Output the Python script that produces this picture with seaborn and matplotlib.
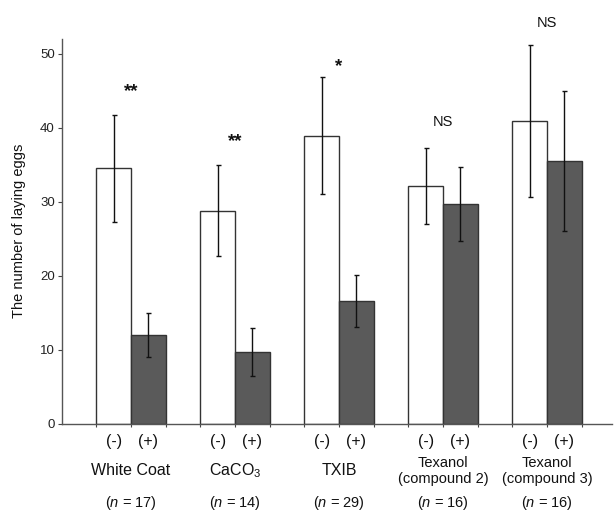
import pandas as pd
import matplotlib
matplotlib.use("Agg")
import matplotlib.pyplot as plt
import seaborn as sns

# values
groups = ['White Coat', 'CaCO$_3$', 'TXIB', 'Texanol\n(compound 2)', 'Texanol\n(compound 3)']
n_values = [17, 14, 29, 16, 16]
treatments = ['(-)', '(+)']
mean_minus = [34.5, 28.8, 38.9, 32.1, 40.9]
err_minus = [7.2, 6.2, 7.9, 5.1, 10.3]
mean_plus = [12.0, 9.7, 16.6, 29.7, 35.5]
err_plus = [3.0, 3.3, 3.5, 4.95, 9.5]
signif = ['**', '**', '*', 'NS', 'NS']
signif_y = [45.1, 38.3, 48.5, 40.8, 54.1]

rows = []
for g, m, p in zip(groups, mean_minus, mean_plus):
    rows.append({'group': g, 'treatment': '(-)', 'eggs': m})
    rows.append({'group': g, 'treatment': '(+)', 'eggs': p})
df = pd.DataFrame(rows)

sns.set_style('white')
plt.rcParams['font.family'] = ['Liberation Sans', 'DejaVu Sans']
plt.rcParams['mathtext.fontset'] = 'custom'
plt.rcParams['mathtext.rm'] = 'Liberation Sans'
plt.rcParams['mathtext.it'] = 'Liberation Sans:italic'

fig = plt.figure(figsize=(6.14, 5.11), dpi=100)
ax = fig.add_axes([61.7 / 614, 87.3 / 511, (612 - 61.7) / 614, 384.8 / 511])

sns.barplot(data=df, x='group', y='eggs', hue='treatment', order=groups,
            hue_order=treatments, palette={'(-)': 'white', '(+)': '#5a5a5a'},
            width=0.667, gap=0, edgecolor='#333333', linewidth=1.0,
            errorbar=None, legend=False, ax=ax)

edges = []
for cont, errs in zip(ax.containers, [err_minus, err_plus]):
    xs = [b.get_x() + b.get_width() / 2 for b in cont]
    ys = [b.get_height() for b in cont]
    ax.errorbar(xs, ys, yerr=errs, fmt='none', ecolor='#111111',
                elinewidth=1.0, capsize=1.8, capthick=1.0, zorder=5)
    for b in cont:
        edges += [b.get_x(), b.get_x() + b.get_width()]

ax.set_xlim(-0.667, 4.625)
ax.set_ylim(0, 52)
ax.set_yticks(range(0, 51, 10))
ax.set_xticks([])
ax.set_xticks(sorted(set(round(e, 4) for e in edges)), minor=True)
ax.tick_params(axis='x', which='minor', bottom=True, length=2.5, width=0.8,
               color='#444444', direction='out')
ax.tick_params(axis='y', left=True, length=3, width=0.8, color='#444444',
               direction='out', labelsize=9.5, pad=2, labelcolor='#222222')
ax.set_xlabel('')
ax.set_ylabel('The number of laying eggs', fontsize=10.5, labelpad=10, color='#111111')

for s in ['top', 'right']:
    ax.spines[s].set_visible(False)
for s in ['left', 'bottom']:
    ax.spines[s].set_color('#555555')
    ax.spines[s].set_linewidth(1.0)

# treatment labels under each bar
for cont, lab in zip(ax.containers, treatments):
    for b in cont:
        ax.annotate(lab, xy=(b.get_x() + b.get_width() / 2, 0),
                    xycoords=('data', 'axes fraction'), xytext=(0, -18),
                    textcoords='offset pixels', ha='center', va='center',
                    fontsize=11.5, color='#111111')

for i, (g, n) in enumerate(zip(groups, n_values)):
    fs = 10.5 if '\n' in g else 11.5
    ax.annotate(g, xy=(i, 0), xycoords=('data', 'axes fraction'), xytext=(0, -47),
                textcoords='offset pixels', ha='center', va='center',
                fontsize=fs, linespacing=1.15, color='#111111')
    ax.annotate(f'($n$ = {n})', xy=(i, 0), xycoords=('data', 'axes fraction'),
                xytext=(0, -79), textcoords='offset pixels', ha='center',
                va='center', fontsize=10.5, color='#111111')

for i, (s, y) in enumerate(zip(signif, signif_y)):
    if s == 'NS':
        ax.text(i, y, s, ha='center', va='center', fontsize=10.5, color='#111111',
                clip_on=False)
    else:
        ax.text(i, y - 0.8, s, ha='center', va='baseline', fontsize=13.5,
                fontweight='bold', color='#111111', clip_on=False)

fig.savefig('out.png', dpi=100)
